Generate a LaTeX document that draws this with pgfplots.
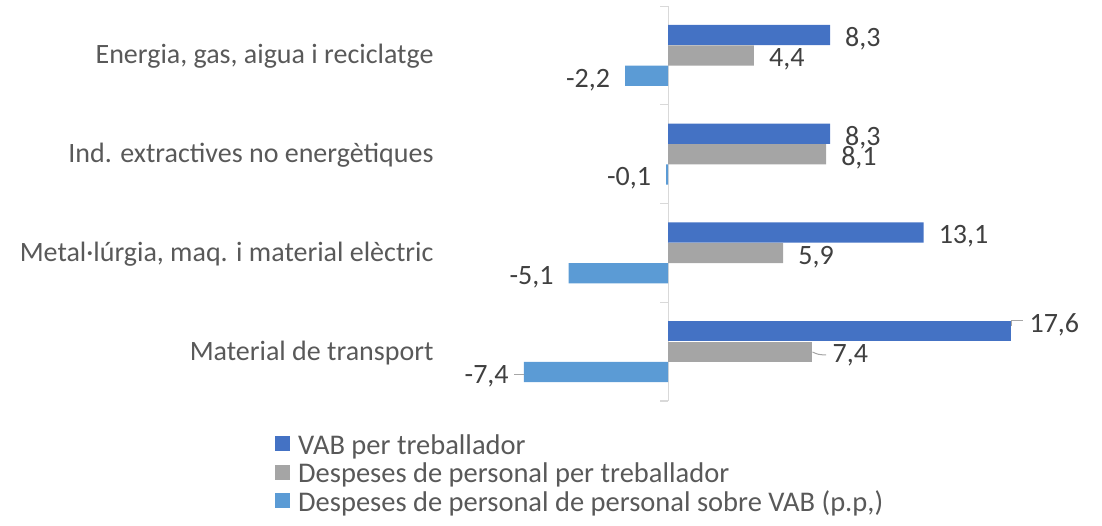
\documentclass[border=0pt]{standalone}
\usepackage{fontspec}
\setmainfont{Carlito}
\usepackage{pgfplots}
\pgfplotsset{compat=1.18}
\definecolor{vabblue}{HTML}{4472C4}
\definecolor{despgray}{HTML}{A5A5A5}
\definecolor{sobreblue}{HTML}{5B9BD5}
\definecolor{txtgray}{HTML}{595959}
\definecolor{lblgray}{HTML}{404040}
\definecolor{axgray}{HTML}{D9D9D9}
\definecolor{leadgray}{HTML}{A6A6A6}

\begin{document}
\begin{tikzpicture}
\useasboundingbox (-440pt,-124pt) rectangle (662pt,401pt);
\begin{axis}[
  at={(0pt,0pt)}, anchor=south west,
  scale only axis, width=649.35pt, height=395pt,
  xbar, bar width=0.205,
  xmin=-11.7, xmax=21.6, ymin=-0.5, ymax=3.5,
  axis line style={draw=none},
  xtick=\empty, ytick={0,1,2,3},
  yticklabels={Material de transport, {Metal·lúrgia, maq. i material elèctric},
    Ind. extractives no energètiques, {Energia, gas, aigua i reciclatge}},
  major tick length=0pt,
  yticklabel style={font=\fontsize{28}{33}\selectfont, text=txtgray, xshift=-3pt, yshift=-1pt},
  point meta=explicit symbolic,
  nodes near coords={\pgfplotspointmeta},
  nodes near coords style={font=\fontsize{28}{33}\selectfont, text=lblgray, inner xsep=15pt, inner ysep=0pt, yshift=-4pt},
  legend style={at={(-0.2541,-0.0835)}, anchor=north west, draw=none, fill=none,
    inner sep=0pt, font=\fontsize{28.5}{30}\selectfont, text=txtgray,
    nodes={inner xsep=0pt, inner ysep=1.25pt, text height=19pt, text depth=7pt},
    /tikz/every odd column/.append style={column sep=8pt}},
  legend cell align=left,
  legend image code/.code={\fill[#1,draw=none] (0pt,-3pt) rectangle (15pt,12pt);},
]
% eix vertical en x = 0
\draw[axgray, line width=1.2pt] (axis cs:0,-0.5) -- (axis cs:0,3.5);
\pgfplotsinvokeforeach{-0.5,0.5,1.5,2.5,3.5}{
  \draw[axgray, line width=1.2pt] (axis cs:0,#1) -- ++(-8pt,0pt);
}

\addplot[fill=vabblue, draw=none, bar shift=0.207,
  every node near coord/.append style={anchor=west}] table[x=v, y=c, meta=lab] {
v    c  lab
13.1 1  13,1
8.3  2  8,3
8.3  3  8,3
};
\addlegendentry{VAB per treballador}
\addplot[fill=despgray, draw=none, bar shift=0,
  every node near coord/.append style={anchor=west}] table[x=v, y=c, meta=lab] {
v    c  lab
5.9  1  5,9
8.1  2  8,1
4.4  3  4,4
};
\addlegendentry{Despeses de personal per treballador}
\addplot[fill=sobreblue, draw=none, bar shift=-0.207,
  every node near coord/.append style={anchor=east}] table[x=v, y=c, meta=lab] {
v    c  lab
-7.4 0  -7,4
-5.1 1  -5,1
-0.1 2  -0,1
-2.2 3  -2,2
};
\addlegendentry{Despeses de personal de personal sobre VAB (p.p,)}

% Material de transport: etiquetes desplaçades amb línia guia
\addplot[forget plot, fill=vabblue, draw=none, bar shift=0.207,
  every node near coord/.append style={anchor=west, xshift=3pt, yshift=10pt}] table[x=v, y=c, meta=lab] {
v    c  lab
17.6 0  17,6
};
\addplot[forget plot, fill=despgray, draw=none, bar shift=0,
  every node near coord/.append style={anchor=west, xshift=5pt, yshift=0pt}] table[x=v, y=c, meta=lab] {
v    c  lab
7.4  0  7,4
};

\draw[leadgray, line width=1pt] (axis cs:17.6,0.26) -- (axis cs:17.6,0.32) -- (axis cs:18.2,0.32);
\draw[leadgray, line width=1pt] (axis cs:7.4,-0.004) .. controls (axis cs:7.7,-0.03) .. (axis cs:8.1,-0.034);
\draw[leadgray, line width=1pt] (axis cs:-7.4,-0.227) -- (axis cs:-7.9,-0.227);
\end{axis}
\end{tikzpicture}
\end{document}
